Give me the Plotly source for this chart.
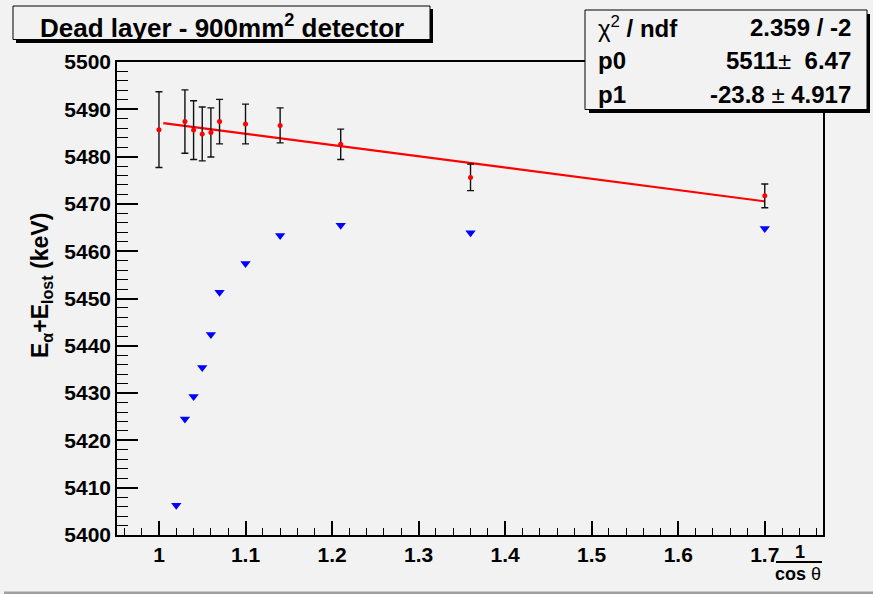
import plotly.graph_objects as go

# ---- data ----
x_meas = [1.00, 1.03, 1.04, 1.05, 1.06, 1.07, 1.10, 1.14, 1.21, 1.36, 1.70]
y_meas = [5485.7, 5487.4, 5485.6, 5484.8, 5485.1, 5487.4, 5486.9, 5486.6, 5482.6, 5475.6, 5471.7]
e_meas = [8.0, 6.7, 6.2, 5.7, 5.2, 4.7, 4.2, 3.7, 3.2, 2.8, 2.5]

x_raw = [1.02, 1.03, 1.04, 1.05, 1.06, 1.07, 1.10, 1.14, 1.21, 1.36, 1.70]
y_raw = [5406.3, 5424.5, 5429.3, 5435.4, 5442.4, 5451.3, 5457.4, 5463.3, 5465.5, 5463.9, 5464.8]

p0 = 5511.0
p1 = -23.8
fit_x = [1.005, 1.70]
fit_y = [p0 + p1 * v for v in fit_x]

x_ticks = [1.0, 1.1, 1.2, 1.3, 1.4, 1.5, 1.6, 1.7]
x_ticktext = ["1", "1.1", "1.2", "1.3", "1.4", "1.5", "1.6", "1.7"]
y_ticks = [5400, 5410, 5420, 5430, 5440, 5450, 5460, 5470, 5480, 5490, 5500]

stats_labels = ["χ<sup>2</sup><b> / ndf</b>", "<b>p0</b>", "<b>p1</b>"]
stats_values = ["<b>2.359 / -2</b>", "<b>5511</b>± <b> 6.47</b>", "<b>-23.8 </b>±<b> 4.917</b>"]

# ---- layout geometry (pixels) ----
W, H = 873, 594
L, R, T, B = 117, 823, 62, 535
BG = "#f2f2f2"
FONT = "Liberation Sans, Arial, Helvetica, sans-serif"


def px(xp):
    return (xp - L) / (R - L)


def py(yp):
    return (B - yp) / (B - T)


fig = go.Figure()

fig.add_trace(go.Scatter(
    x=fit_x, y=fit_y, mode="lines",
    line=dict(color="#ff0000", width=2.2), showlegend=False, hoverinfo="skip"))

fig.add_trace(go.Scatter(
    x=x_meas, y=y_meas, mode="markers",
    marker=dict(color="#ff0000", size=5, symbol="circle"),
    error_y=dict(type="data", array=e_meas, color="#111111", thickness=1.4, width=3.5),
    showlegend=False))

fig.add_trace(go.Scatter(
    x=x_raw, y=y_raw, mode="markers",
    marker=dict(color="#0000ff", size=9, symbol="triangle-down"),
    showlegend=False))

shapes = []
# title box shadow + box
shapes.append(dict(type="rect", xref="paper", yref="paper",
                   x0=px(16), x1=px(433), y0=py(43), y1=py(9),
                   fillcolor="black", line=dict(width=0), layer="above"))
shapes.append(dict(type="rect", xref="paper", yref="paper",
                   x0=px(13), x1=px(430), y0=py(39.5), y1=py(6),
                   fillcolor=BG, line=dict(color="black", width=1), layer="above"))
# stats box shadow + box
shapes.append(dict(type="rect", xref="paper", yref="paper",
                   x0=px(589), x1=px(870), y0=py(113), y1=py(14),
                   fillcolor="black", line=dict(width=0), layer="above"))
shapes.append(dict(type="rect", xref="paper", yref="paper",
                   x0=px(585), x1=px(867), y0=py(109.5), y1=py(10),
                   fillcolor=BG, line=dict(color="black", width=1), layer="above"))
# fraction bar of x title
shapes.append(dict(type="line", xref="paper", yref="paper",
                   x0=px(776), x1=px(822), y0=py(562), y1=py(562),
                   line=dict(color="black", width=2), layer="above"))
# canvas bottom bevel
shapes.append(dict(type="line", xref="paper", yref="paper",
                   x0=px(4), x1=px(873), y0=py(593), y1=py(593),
                   line=dict(color="#a0a0a0", width=3), layer="above"))

annotations = []
annotations.append(dict(xref="paper", yref="paper", x=px(221.5), y=py(26),
                        text="<b>Dead layer - 900mm<sup>2</sup> detector</b>",
                        showarrow=False, xanchor="center", yanchor="middle",
                        font=dict(family=FONT, size=26, color="black")))
rows_y = [27, 61, 94]
for lab, val, ry in zip(stats_labels, stats_values, rows_y):
    annotations.append(dict(xref="paper", yref="paper", x=px(596), y=py(ry),
                            text=lab, showarrow=False, xanchor="left", yanchor="middle",
                            font=dict(family=FONT, size=24, color="black")))
    annotations.append(dict(xref="paper", yref="paper", x=px(853), y=py(ry),
                            text=val, showarrow=False, xanchor="right", yanchor="middle",
                            font=dict(family=FONT, size=24, color="black")))
# x title as fraction 1 / cos θ
annotations.append(dict(xref="paper", yref="paper", x=px(800), y=py(552),
                        text="<b>1</b>", showarrow=False, xanchor="center", yanchor="middle",
                        font=dict(family=FONT, size=18, color="black")))
annotations.append(dict(xref="paper", yref="paper", x=px(798), y=py(574),
                        text="<b>cos</b> θ", showarrow=False, xanchor="center", yanchor="middle",
                        font=dict(family=FONT, size=18, color="black")))
# y title
annotations.append(dict(xref="paper", yref="paper", x=px(41), y=py(286),
                        text="<b>E<sub>α</sub>+E<sub>lost</sub> (keV)</b>",
                        showarrow=False, textangle=-90, xanchor="center", yanchor="middle",
                        font=dict(family=FONT, size=23, color="black")))

fig.update_layout(
    width=W, height=H,
    margin=dict(l=L, r=W - R, t=T, b=H - B, pad=0),
    paper_bgcolor=BG, plot_bgcolor=BG,
    shapes=shapes, annotations=annotations,
    font=dict(family=FONT, color="black"),
    xaxis=dict(range=[0.9515, 1.7673], tickvals=x_ticks, ticktext=x_ticktext,
               ticks="inside", ticklen=14, tickwidth=1.5, tickcolor="black",
               minor=dict(dtick=0.02, tick0=0.0, ticks="inside", ticklen=7,
                          tickwidth=1.2, tickcolor="black", showgrid=False),
               showline=True, linewidth=2, linecolor="black", mirror=True,
               showgrid=False, zeroline=False,
               tickfont=dict(family=FONT, size=21, color="black", weight="bold")),
    yaxis=dict(range=[5400, 5500], tickvals=y_ticks,
               ticks="inside", ticklen=21, tickwidth=1.5, tickcolor="black",
               minor=dict(dtick=2, tick0=5400, ticks="inside", ticklen=11,
                          tickwidth=1.2, tickcolor="black", showgrid=False),
               showline=True, linewidth=1.5, linecolor="black", mirror=True,
               showgrid=False, zeroline=False,
               tickfont=dict(family=FONT, size=21, color="black", weight="bold")),
)

fig.write_html("out.html")
